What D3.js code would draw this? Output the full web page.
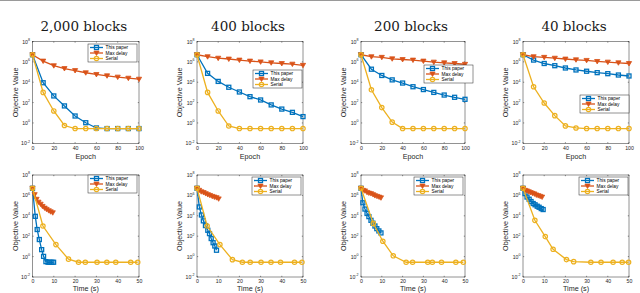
<!DOCTYPE html>
<html><head><meta charset="utf-8">
<script src="https://cdn.jsdelivr.net/npm/d3@7"></script>
<style>html,body{margin:0;padding:0;background:#fff;}svg{display:block;}</style>
</head><body>
<svg id="chart" width="640" height="293"></svg>
<script>
// ---- data ----
const titles = ["2,000 blocks", "400 blocks", "200 blocks", "40 blocks"];
const seriesNames = ["This paper", "Max delay", "Serial"];
const epochs = [0, 10, 20, 30, 40, 50, 60, 70, 80, 90, 100];
const epochTicks = [0, 20, 40, 60, 80, 100];
const timeTicks = [0, 10, 20, 30, 40, 50];
const yTickExps = [8, 6, 4, 2, 0, -2];

const paperA  = [5.0e6, 8.9e3, 450, 47, 4.8, 1.05, 0.32, 0.28, 0.28, 0.28, 0.28];
const delayA  = [5.0e6, 1.2e6, 4.2e5, 2.2e5, 1.4e5, 8.5e4, 5.8e4, 4.3e4, 3.2e4, 2.5e4, 2.0e4];
const serialA = [5.0e6, 1.0e3, 15, 0.56, 0.28, 0.28, 0.28, 0.28, 0.28, 0.28, 0.28];

const paperB  = [5.0e6, 7.4e4, 1.2e4, 3.2e3, 1.1e3, 380, 180, 59, 23, 11, 4.2];
const delayB  = [5.0e6, 3.2e6, 2.3e6, 1.9e6, 1.5e6, 1.2e6, 1.0e6, 8.1e5, 6.9e5, 6.0e5, 4.6e5];
const serialB = [5.0e6, 1.0e3, 15, 0.5, 0.28, 0.28, 0.28, 0.28, 0.28, 0.28, 0.28];

const paperC  = [5.0e6, 1.9e5, 4.6e4, 1.7e4, 8.3e3, 3.6e3, 1.9e3, 1.0e3, 550, 330, 210];
const delayC  = [5.0e6, 3.2e6, 2.8e6, 2.0e6, 1.7e6, 1.5e6, 1.2e6, 9.5e5, 8.1e5, 6.9e5, 5.8e5];
const serialC = [5.0e6, 1.8e3, 32, 1.2, 0.28, 0.28, 0.28, 0.28, 0.28, 0.28, 0.28];

const paperD  = [5.0e6, 1.5e6, 6.9e5, 4.2e5, 2.5e5, 1.6e5, 1.2e5, 8.7e4, 6.9e4, 5.1e4, 4.1e4];
const delayD  = [5.0e6, 3.2e6, 2.8e6, 2.3e6, 1.9e6, 1.6e6, 1.4e6, 1.1e6, 9.5e5, 8.1e5, 6.9e5];
const serialD = [5.0e6, 3.6e3, 91, 5.2, 0.51, 0.32, 0.28, 0.28, 0.28, 0.28, 0.28];

const timePaperA  = [0, 1.3, 2.2, 3.2, 4.3, 5.2, 6.3, 7.3, 8.2, 9.1, 9.9];
const timeDelayA  = [0, 1.0, 1.9, 2.8, 3.8, 4.7, 5.7, 6.6, 7.6, 8.5, 9.5];
const timeSerialA = [0, 4.9, 11.0, 16.9, 21.6, 24.8, 30.3, 34.9, 39.1, 46.1, 49.4];

const timePaperB  = [0, 1.1, 2.1, 3.0, 4.0, 5.1, 5.9, 6.7, 7.6, 8.4, 9.2];
const timeDelayB  = [0, 1.0, 2.0, 3.1, 4.1, 5.1, 6.1, 7.2, 8.2, 9.2, 10.2];
const timeSerialB = [0, 4.8, 10.8, 16.7, 21.4, 25.1, 30.2, 34.9, 39.4, 46.0, 49.5];

const timePaperC  = [0, 0.9, 1.9, 2.9, 3.8, 4.8, 5.7, 6.7, 7.6, 8.6, 9.6];
const timeDelayC  = [0, 0.95, 1.9, 2.9, 3.8, 4.8, 5.8, 6.7, 7.7, 8.7, 9.6];
const timeSerialC = [0, 5.9, 10.5, 15.5, 21.7, 24.8, 32.1, 34.3, 38.7, 45.6, 49.2];

const timePaperD  = [0, 0.95, 1.9, 2.9, 3.8, 4.8, 5.7, 6.7, 7.6, 8.6, 9.5];
const timeDelayD  = [0, 0.9, 1.8, 2.7, 3.6, 4.5, 5.4, 6.3, 7.2, 8.1, 9.0];
const timeSerialD = [0, 5.6, 10.5, 14.2, 20.5, 23.9, 32.0, 36.8, 42.5, 46.8, 49.8];

// ---- layout / style ----
const colors = ["#0072BD", "#D95319", "#EDB120"];
const cols = [{x: 32.5, w: 106.5}, {x: 197, w: 106}, {x: 361, w: 104}, {x: 523, w: 106}];
const rows = [{y: 41.5, h: 101.8}, {y: 175, h: 102}];
const legendPos = [
  [[88, 44], [253, 70], [424, 65], [580, 95]],
  [[88, 175], [252, 177], [414, 177], [579, 177]]
];
const panelValues = [
  [paperA, delayA, serialA], [paperB, delayB, serialB],
  [paperC, delayC, serialC], [paperD, delayD, serialD]
];
const panelTimes = [
  [timePaperA, timeDelayA, timeSerialA], [timePaperB, timeDelayB, timeSerialB],
  [timePaperC, timeDelayC, timeSerialC], [timePaperD, timeDelayD, timeSerialD]
];

const svg = d3.select("#chart");
svg.append("rect").attr("width", 640).attr("height", 293).attr("fill", "#fff");
svg.append("line").attr("x1", 0).attr("x2", 640).attr("y1", 0.5).attr("y2", 0.5)
  .attr("stroke", "#9a9a9a").attr("stroke-width", 1);

const axisColor = "#262626";
const fontSans = "'Liberation Sans', Arial, sans-serif";

function drawMarker(g, type, x, y, color) {
  if (type === 0) {
    g.append("rect").attr("x", x - 2).attr("y", y - 2).attr("width", 4).attr("height", 4)
      .attr("fill", "none").attr("stroke", color).attr("stroke-width", 1.3);
  } else if (type === 1) {
    const s = 2.6;
    g.append("path").attr("d", `M${x - s},${y - s * 0.75}L${x + s},${y - s * 0.75}L${x},${y + s * 0.95}Z`)
      .attr("fill", color).attr("stroke", color).attr("stroke-width", 0.8);
  } else {
    g.append("circle").attr("cx", x).attr("cy", y).attr("r", 2.2)
      .attr("fill", "none").attr("stroke", color).attr("stroke-width", 1.2);
  }
}

function drawPanel(ci, ri) {
  const c = cols[ci], r = rows[ri];
  const g = svg.append("g");
  const isTime = ri === 1;
  const x = d3.scaleLinear().domain(isTime ? [0, 50] : [0, 100]).range([c.x, c.x + c.w]);
  const y = d3.scaleLog().domain([1e-2, 1e8]).range([r.y + r.h, r.y]);

  // box
  g.append("rect").attr("x", c.x).attr("y", r.y).attr("width", c.w).attr("height", r.h)
    .attr("fill", "#fff").attr("stroke", axisColor).attr("stroke-width", 0.5);

  // x axis
  const xticks = isTime ? timeTicks : epochTicks;
  const xa = d3.axisBottom(x).tickValues(xticks).tickSize(0).tickPadding(isTime ? 2.5 : 3)
    .tickFormat(d3.format("d"));
  const xg = g.append("g").attr("transform", `translate(0,${r.y + r.h})`).call(xa);
  xg.select(".domain").remove();
  xg.selectAll("text").attr("font-size", 5.2).attr("font-family", fontSans).attr("fill", axisColor);
  xticks.forEach(t => {
    g.append("line").attr("x1", x(t)).attr("x2", x(t)).attr("y1", r.y + r.h).attr("y2", r.y + r.h - 1.2)
      .attr("stroke", axisColor).attr("stroke-width", 0.5);
    g.append("line").attr("x1", x(t)).attr("x2", x(t)).attr("y1", r.y).attr("y2", r.y + 1.2)
      .attr("stroke", axisColor).attr("stroke-width", 0.5);
  });

  // y axis
  yTickExps.forEach(e => {
    const yy = y(Math.pow(10, e));
    g.append("line").attr("x1", c.x).attr("x2", c.x + 1.2).attr("y1", yy).attr("y2", yy)
      .attr("stroke", axisColor).attr("stroke-width", 0.5);
    g.append("line").attr("x1", c.x + c.w).attr("x2", c.x + c.w - 1.2).attr("y1", yy).attr("y2", yy)
      .attr("stroke", axisColor).attr("stroke-width", 0.5);
    const t = g.append("text").attr("x", c.x - 2.5).attr("y", yy + 2)
      .attr("text-anchor", "end").attr("font-family", fontSans).attr("fill", axisColor);
    t.append("tspan").attr("font-size", 5.2).text("10");
    t.append("tspan").attr("font-size", 3.6).attr("dy", -2.6).text(e < 0 ? "-" + (-e) : e);
  });

  // axis labels
  g.append("text").attr("x", c.x + c.w / 2).attr("y", r.y + r.h + (isTime ? 13.6 : 16))
    .attr("text-anchor", "middle").attr("font-size", 7.2).attr("font-family", fontSans)
    .attr("fill", axisColor).text(isTime ? "Time (s)" : "Epoch");
  g.append("text")
    .attr("transform", `translate(${c.x - 15},${r.y + r.h / 2}) rotate(-90)`)
    .attr("text-anchor", "middle").attr("font-size", 7.2).attr("font-family", fontSans)
    .attr("fill", axisColor).text("Objective Value");

  // series
  const vals = panelValues[ci];
  const times = panelTimes[ci];
  vals.forEach((vs, si) => {
    const xs = isTime ? times[si] : epochs;
    const pts = vs.map((v, i) => [x(xs[i]), y(v)]);
    g.append("path").attr("d", d3.line()(pts)).attr("fill", "none")
      .attr("stroke", colors[si]).attr("stroke-width", 1.3);
    pts.forEach(p => drawMarker(g, si, p[0], p[1], colors[si]));
  });

  // legend
  const [lx, ly] = legendPos[ri][ci];
  const lw = 49, lh = 18;
  const lg = g.append("g");
  lg.append("rect").attr("x", lx).attr("y", ly).attr("width", lw).attr("height", lh)
    .attr("fill", "#fff").attr("stroke", axisColor).attr("stroke-width", 0.5);
  seriesNames.forEach((n, si) => {
    const yy = ly + 3.5 + si * 5.5;
    lg.append("line").attr("x1", lx + 2).attr("x2", lx + 15).attr("y1", yy).attr("y2", yy)
      .attr("stroke", colors[si]).attr("stroke-width", 1.3);
    drawMarker(lg, si, lx + 8.5, yy, colors[si]);
    lg.append("text").attr("x", lx + 17.5).attr("y", yy + 1.7)
      .attr("font-size", 4.8).attr("font-family", fontSans).attr("fill", "#000").text(n);
  });

  // title
  if (ri === 0) {
    svg.append("text").attr("x", c.x + c.w / 2 - 2).attr("y", 31)
      .attr("text-anchor", "middle").attr("font-size", 13.5)
      .attr("font-family", "DejaVu Serif")
      .attr("fill", "#1a1a1a").text(titles[ci]);
  }
}

for (let ri = 0; ri < 2; ri++) for (let ci = 0; ci < 4; ci++) drawPanel(ci, ri);
</script>
</body></html>
